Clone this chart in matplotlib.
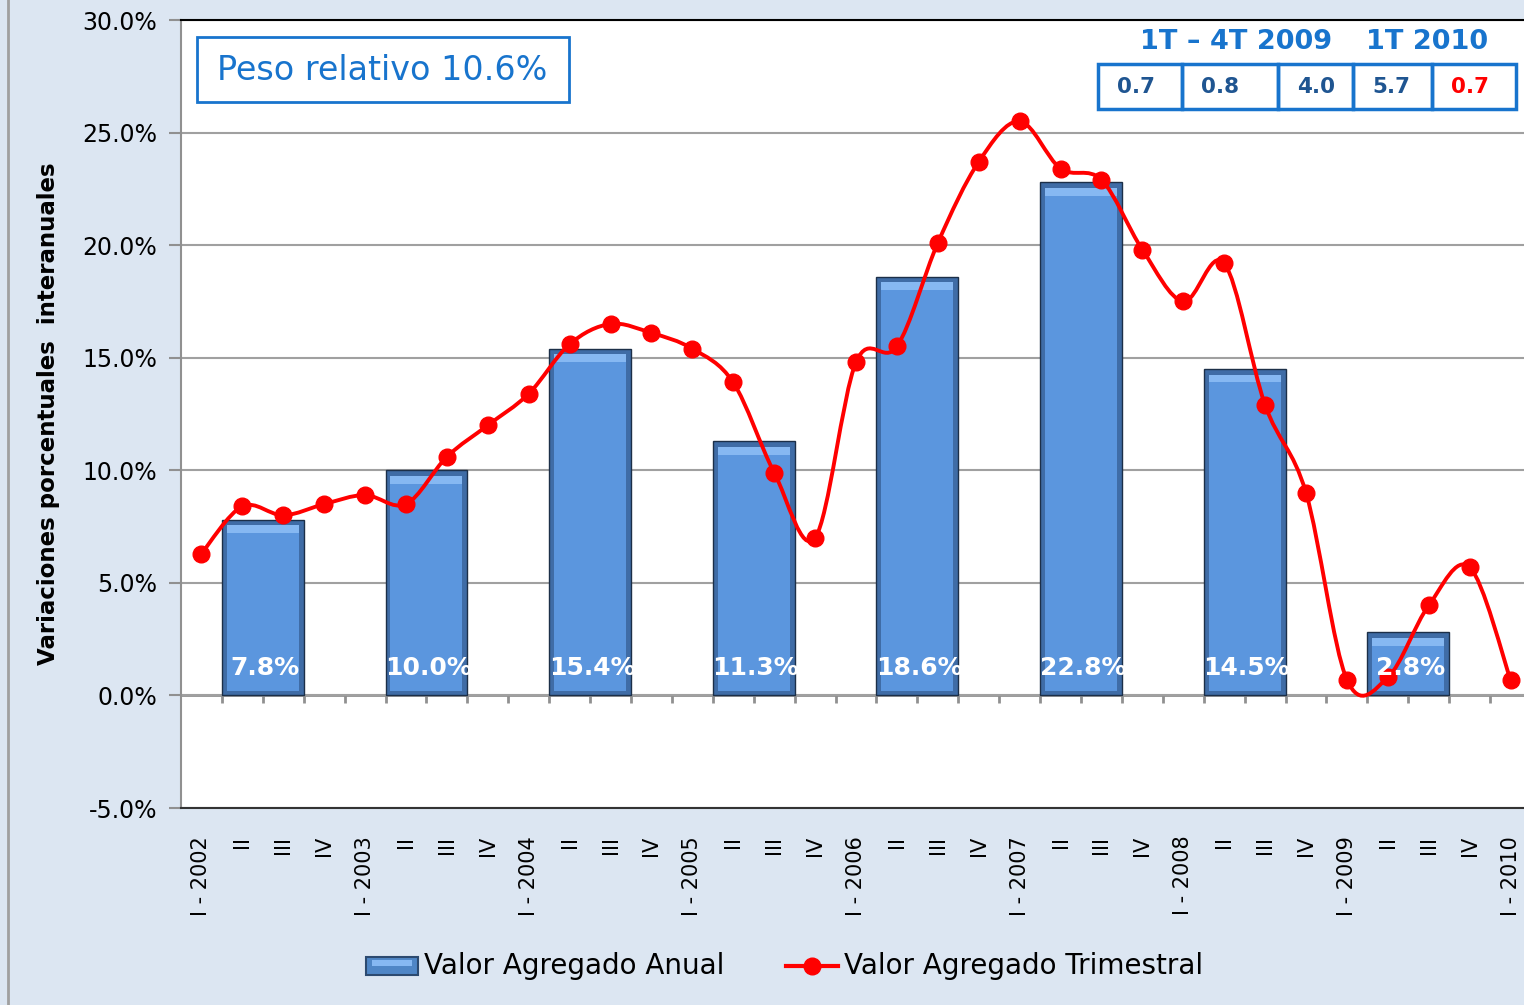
import numpy as np
import matplotlib
matplotlib.use("Agg")
import matplotlib.pyplot as plt
from matplotlib.path import Path
from matplotlib.patches import PathPatch, Rectangle
from matplotlib.lines import Line2D
from matplotlib.ticker import FuncFormatter

# quarterly labels and values (% interannual)
quarters = ["I - 2002", "II", "III", "IV", "I - 2003", "II", "III", "IV",
            "I - 2004", "II", "III", "IV", "I - 2005", "II", "III", "IV",
            "I - 2006", "II", "III", "IV", "I - 2007", "II", "III", "IV",
            "I - 2008", "II", "III", "IV", "I - 2009", "II", "III", "IV",
            "I - 2010"]
trimestral = [6.3, 8.4, 8.0, 8.5, 8.9, 8.5, 10.6, 12.0,
              13.4, 15.6, 16.5, 16.1, 15.4, 13.9, 9.9, 7.0,
              14.8, 15.5, 20.1, 23.7, 25.5, 23.4, 22.9, 19.8,
              17.5, 19.2, 12.9, 9.0, 0.7, 0.8, 4.0, 5.7,
              0.7]

years = [2002, 2003, 2004, 2005, 2006, 2007, 2008, 2009]
anual = [7.8, 10.0, 15.4, 11.3, 18.6, 22.8, 14.5, 2.8]

tabla_2009 = ["0.7", "0.8", "4.0", "5.7"]
tabla_2010 = ["0.7"]

bg = "#dce6f2"
blue_txt = "#1874cd"

fig = plt.figure(figsize=(15.24, 10.05), dpi=100, facecolor=bg)
ax = fig.add_axes([181/1524, 1-808/1005, 1350/1524, 788/1005])
ax.set_facecolor("white")

x = np.arange(len(quarters))
bar_x = np.array([quarters.index("I - %d" % y) for y in years]) + 1.5
anual = np.array(anual)

# bars with a bit of bevel look
ax.bar(bar_x, anual, width=2.0, color="#3f6ca6", edgecolor="#1c2f48", lw=1, zorder=2)
ax.bar(bar_x, anual - 0.5, bottom=0.2, width=1.76, color="#5b96de", lw=0, zorder=2)
ax.bar(bar_x, 0.35, bottom=anual - 0.6, width=1.76, color="#86b8f2", lw=0, zorder=2)

for bx, v in zip(bar_x, anual):
    ax.text(bx + 0.05, 1.2, "%.1f%%" % v, color="white", fontsize=18, fontweight="bold",
            ha="center", va="center", zorder=5)

# smooth line like excel (bezier through the points)
pts = np.column_stack([x, trimestral])
ext = np.vstack([pts[0], pts, pts[-1]])
verts = [tuple(pts[0])]
codes = [Path.MOVETO]
for i in range(1, len(ext) - 2):
    p0, p1, p2, p3 = ext[i-1], ext[i], ext[i+1], ext[i+2]
    c1 = p1 + (p2 - p0) / 6.0
    c2 = p2 - (p3 - p1) / 6.0
    verts += [tuple(c1), tuple(c2), tuple(p2)]
    codes += [Path.CURVE4] * 3
ax.add_patch(PathPatch(Path(verts, codes), fill=False, edgecolor="red", lw=2.8, zorder=3))
ax.plot(x, trimestral, ls="none", marker="o", ms=12, color="red", zorder=4)

ax.set_xlim(-0.5, len(quarters) - 0.5)
ax.set_ylim(-5, 30)
ax.set_yticks(np.arange(-5, 31, 5))
ax.yaxis.set_major_formatter(FuncFormatter(lambda v, p: "%.1f%%" % v))
ax.grid(axis="y", color="#a0a0a0", lw=1.5, zorder=0)
ax.tick_params(axis="y", labelsize=17, length=9, width=1.5, color="#909090", pad=8)
ax.set_xticks(x)
ax.set_xticklabels(quarters, rotation=90, fontsize=15)
ax.tick_params(axis="x", length=0, pad=20)

# axis at zero with tick marks between categories
ax.axhline(0, color="#909090", lw=2, zorder=1)
ax.vlines(np.arange(len(quarters) - 1) + 0.5, -0.32, 0, color="#909090", lw=2, zorder=1)

ax.spines["right"].set_visible(False)
ax.spines["left"].set_color("#909090")
ax.spines["left"].set_linewidth(1.5)
ax.spines["top"].set_color("black")
ax.spines["top"].set_linewidth(1.5)
ax.spines["bottom"].set_color("#333333")
ax.spines["bottom"].set_linewidth(1.5)

ax.set_ylabel("Variaciones porcentuales  interanuales", fontsize=16.5, fontweight="bold",
              labelpad=16)

# overlay in pixel coordinates for boxes and legend
ov = fig.add_axes([0, 0, 1, 1], facecolor="none")
ov.set_xlim(0, 1524)
ov.set_ylim(1005, 0)
ov.axis("off")
ov.plot([8, 8], [0, 1005], color="#a0a0a0", lw=2)

ov.add_patch(Rectangle((197, 37), 372, 65, fill=False, ec=blue_txt, lw=2))
ov.text(382, 70, "Peso relativo 10.6%", color=blue_txt, fontsize=24, ha="center", va="center")

ov.text(1236, 42, "1T \u2013 4T 2009", color=blue_txt, fontsize=19.5, fontweight="bold",
        ha="center", va="center")
ov.text(1427, 42, "1T 2010", color=blue_txt, fontsize=19.5, fontweight="bold",
        ha="center", va="center")
edges = [1098, 1182, 1278, 1353, 1432, 1516]
cells = tabla_2009 + tabla_2010
for i, t in enumerate(cells):
    ov.add_patch(Rectangle((edges[i], 64), edges[i+1] - edges[i], 45, fill=False,
                           ec=blue_txt, lw=2.5))
    col = "red" if i == len(cells) - 1 else "#1f5591"
    ov.text(edges[i] + 19, 87, t, color=col, fontsize=15.5, fontweight="bold",
            ha="left", va="center")

# legend
ov.add_patch(Rectangle((366, 957), 52, 18, fc="#4f86c6", ec="#2c4a70", lw=1.5))
ov.add_patch(Rectangle((372, 960), 40, 6, fc="#86b8f2", lw=0))
ov.text(424, 966, "Valor Agregado Anual", fontsize=20, ha="left", va="center")
ov.add_line(Line2D([786, 838], [966, 966], color="red", lw=3))
ov.plot([812], [966], marker="o", ms=12, color="red")
ov.text(844, 966, "Valor Agregado Trimestral", fontsize=20, ha="left", va="center")

fig.savefig("out.png", dpi=100, facecolor=bg)
